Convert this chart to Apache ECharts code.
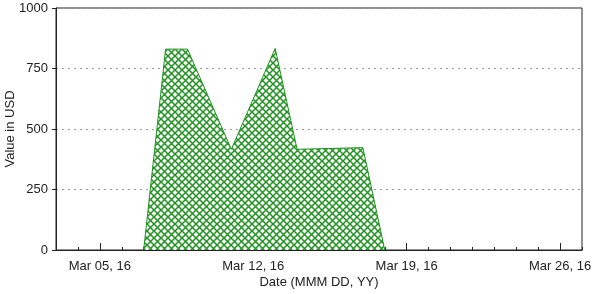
<!DOCTYPE html>
<html><head><meta charset="utf-8">
<script src="https://cdn.jsdelivr.net/npm/echarts@6/dist/echarts.min.js"></script>
<style>html,body{margin:0;padding:0;background:#fff}#c{width:598px;height:294px}</style>
</head><body><div id="c"></div>
<script>
var categories = ['Mar 03, 16','Mar 04, 16','Mar 05, 16','Mar 06, 16','Mar 07, 16','Mar 08, 16','Mar 09, 16','Mar 10, 16','Mar 11, 16','Mar 12, 16','Mar 13, 16','Mar 14, 16','Mar 15, 16','Mar 16, 16','Mar 17, 16','Mar 18, 16','Mar 19, 16','Mar 20, 16','Mar 21, 16','Mar 22, 16','Mar 23, 16','Mar 24, 16','Mar 25, 16','Mar 26, 16','Mar 27, 16'];
var tickLabels = ['Mar 05, 16','Mar 12, 16','Mar 19, 16','Mar 26, 16'];
var pointDates = ['Mar 07, 16','Mar 08, 16','Mar 09, 16','Mar 11, 16','Mar 13, 16','Mar 14, 16','Mar 17, 16','Mar 18, 16'];
var pointValues = [0, 830, 830, 416, 833, 416, 423, 0];
var yTicks = [0, 250, 500, 750, 1000];

var green = '#1f931f';
var P = 7;
var pc = document.createElement('canvas');
pc.width = P; pc.height = P;
var g = pc.getContext('2d');
g.fillStyle = '#fff'; g.fillRect(0,0,P,P);
g.strokeStyle = green; g.lineWidth = 1.5;
g.beginPath();
g.moveTo(-1,-1); g.lineTo(P+1,P+1);
g.moveTo(P+1,-1); g.lineTo(-1,P+1);
g.stroke();

var font = 'Liberation Sans, Arial, sans-serif';
var isMajor = function(i, v){ return tickLabels.indexOf(categories[i]) >= 0; };
var chart = echarts.init(document.getElementById('c'), null, {renderer:'canvas'});
chart.setOption({
  animation: false,
  textStyle: {fontFamily: font},
  grid: {left: 56, right: 16, top: 8, bottom: 44, outerBoundsMode: 'none', containLabel: false,
         show: true, borderColor: '#222', borderWidth: 1, backgroundColor: 'transparent'},
  xAxis: [{
    type: 'category', data: categories, boundaryGap: false,
    axisLine: {lineStyle: {color: '#222', width: 1}},
    axisTick: {inside: true, length: 3, interval: 0, lineStyle: {color: '#222'}},
    axisLabel: {show: false},
    splitLine: {show: false}
  },{
    type: 'category', data: categories, boundaryGap: false, position: 'bottom',
    name: 'Date (MMM DD, YY)', nameLocation: 'middle', nameGap: 26, nameMoveOverlap: false,
    nameTextStyle: {color: '#222', fontSize: 13, fontFamily: font},
    axisLine: {show: false},
    axisTick: {inside: true, length: 7, interval: isMajor, lineStyle: {color: '#222'}},
    axisLabel: {interval: isMajor, color: '#222', fontSize: 13, margin: 10, fontFamily: font},
    splitLine: {show: false}
  }],
  yAxis: {
    type: 'value', min: yTicks[0], max: yTicks[yTicks.length-1], interval: 250,
    name: 'Value in USD', nameLocation: 'middle', nameGap: 39, nameMoveOverlap: false,
    nameTextStyle: {color: '#222', fontSize: 13, fontFamily: font},
    axisLine: {show: true, lineStyle: {color: '#222'}},
    axisTick: {show: true, length: 4, lineStyle: {color: '#222'}},
    axisLabel: {color: '#222', fontSize: 13, margin: 8, fontFamily: font, formatter: function(v){ return String(v); }},
    splitLine: {show: true, lineStyle: {color: '#999', type: [2, 4], width: 1}}
  },
  series: [{
    type: 'line', xAxisIndex: 0,
    data: pointDates.map(function(d, i){ return [d, pointValues[i]]; }),
    showSymbol: false, symbol: 'none',
    lineStyle: {color: green, width: 1},
    areaStyle: {color: {image: pc, repeat: 'repeat'}, opacity: 1}
  }]
});
</script></body></html>
